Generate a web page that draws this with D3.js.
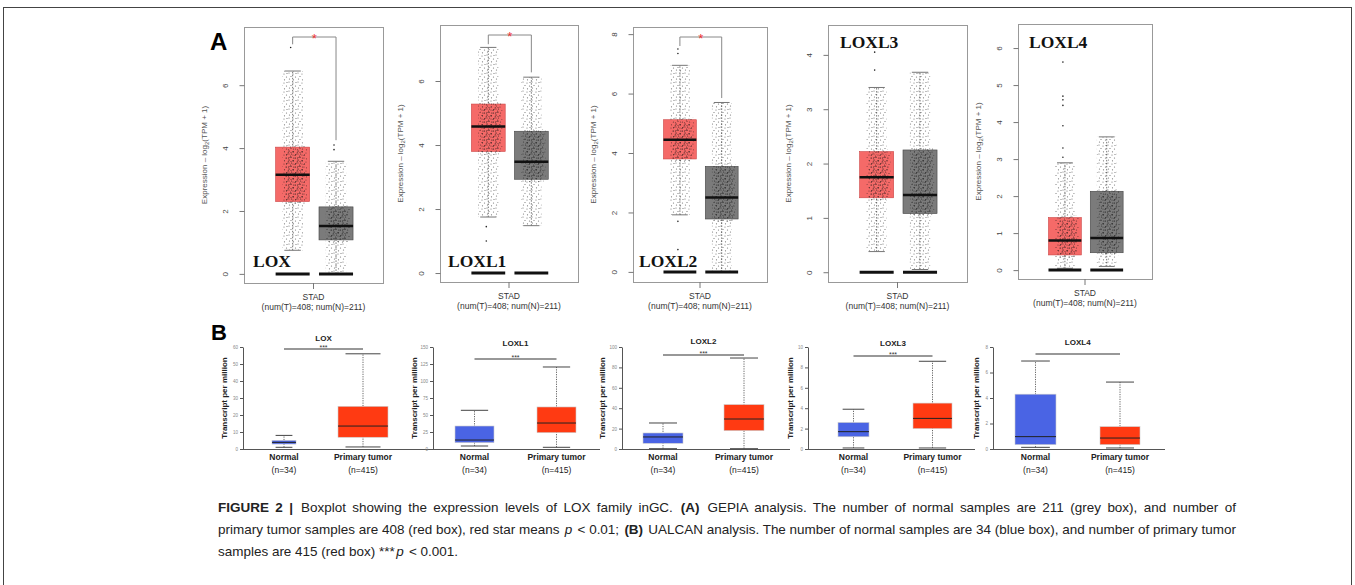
<!DOCTYPE html>
<html>
<head>
<meta charset="utf-8">
<script src="https://cdn.jsdelivr.net/npm/d3@7"></script>
<style>
  body { margin: 0; background: #fff; }
  svg { display: block; font-family: "Liberation Sans", Arial, sans-serif; }
</style>
</head>
<body>
<div class="fig"></div>
<script>
// ---- data ----
const genes = ["LOX", "LOXL1", "LOXL2", "LOXL3", "LOXL4"];

// GEPIA, log2(TPM+1): [lower whisker, Q1, median, Q3, upper whisker]
const gepiaTumor = [
  [0.75, 2.30, 3.15, 4.03, 6.45],
  [1.75, 3.80, 4.58, 5.28, 7.05],
  [1.92, 3.80, 4.45, 5.12, 6.95],
  [0.38, 1.37, 1.75, 2.22, 3.40],
  [0.05, 0.41, 0.80, 1.42, 2.90]
];
const gepiaNormal = [
  [0.00, 1.08, 1.52, 2.13, 3.58],
  [1.48, 2.93, 3.48, 4.43, 6.12],
  [0.00, 1.78, 2.50, 3.55, 5.70],
  [0.05, 1.08, 1.42, 2.25, 3.68],
  [0.10, 0.47, 0.87, 2.13, 3.60]
];
const gepiaTumorOut = [[7.2], [1.45, 1.0], [7.5, 7.35, 1.7, 0.75], [4.05, 3.72], [5.62, 4.7, 4.6, 4.45, 3.9, 3.3, 3.05]];
const gepiaNormalOut = [[4.1, 3.95], [], [], [], []];
const gepiaTicks = [[0, 2, 4, 6], [0, 2, 4, 6], [0, 2, 4, 6, 8], [0, 1, 2, 3, 4], [0, 1, 2, 3, 4, 5, 6]];
const gepiaDomain = [[-0.29, 7.85], [-0.28, 7.75], [-0.34, 8.24], [-0.18, 4.55], [-0.24, 6.65]];
const gepiaSignif = [true, true, true, false, false];
const gepiaXLabels = ["STAD", "(num(T)=408; num(N)=211)"];

// UALCAN, transcripts per million: [lower whisker, Q1, median, Q3, upper whisker]
const ualcanNormal = [
  [1.0, 2.9, 3.9, 5.1, 8.0],
  [4.4, 9.3, 13.2, 33.8, 56.9],
  [0.3, 5.6, 11.8, 15.7, 25.5],
  [0.1, 1.2, 1.7, 2.6, 3.9],
  [0.13, 0.34, 0.97, 4.3, 6.9]
];
const ualcanTumor = [
  [1.2, 6.9, 13.5, 25.1, 56.0],
  [2.5, 24.0, 38.2, 61.8, 120.6],
  [0.3, 18.0, 29.4, 43.5, 89.2],
  [0.1, 2.0, 3.0, 4.5, 8.6],
  [0.08, 0.34, 0.86, 1.75, 5.25]
];
const ualcanMax = [60, 150, 100, 10, 8];
const ualcanStep = [10, 25, 20, 2, 2];
const ualcanStars = ["***", "***", "***", "***", ""];
const ualcanGroups = ["Normal", "Primary tumor"];
const ualcanCounts = ["(n=34)", "(n=415)"];

// ---- layout ----
const W = 1355, H = 585;
const svg = d3.select(".fig").append("svg").attr("width", W).attr("height", H);

// jitter texture (styling only)
const defs = svg.append("defs");
const pat = defs.append("pattern").attr("id", "jit")
  .attr("patternUnits", "userSpaceOnUse").attr("width", 9).attr("height", 9);
[[1, 1], [5, 2], [3, 4.5], [7.5, 5], [1.5, 7], [5.5, 7.8], [8, 1.5]].forEach(p => {
  pat.append("circle").attr("cx", p[0]).attr("cy", p[1]).attr("r", 0.6).attr("fill", "#111");
});

// outer frame
svg.append("rect").attr("x", 3.5).attr("y", 7.5).attr("width", 1348).attr("height", 600)
  .attr("fill", "none").attr("stroke", "#444").attr("stroke-width", 1);

svg.append("text").attr("x", 210).attr("y", 50).attr("font-size", 24).attr("font-weight", "bold").text("A");
svg.append("text").attr("x", 211).attr("y", 340).attr("font-size", 22).attr("font-weight", "bold").text("B");

// GEPIA panels
const gepiaFrames = [
  { x0: 244, x1: 383, y0: 27, y1: 283, lx: 253, ly: 267 },
  { x0: 440, x1: 578, y0: 25, y1: 282, lx: 448, ly: 267 },
  { x0: 633, x1: 767, y0: 27, y1: 282, lx: 639, ly: 267 },
  { x0: 828, x1: 967, y0: 25, y1: 282, lx: 840, ly: 48 },
  { x0: 1018, x1: 1152, y0: 24, y1: 279, lx: 1029, ly: 48 }
];

genes.forEach((g, i) => {
  const f = gepiaFrames[i];
  const y = d3.scaleLinear().domain(gepiaDomain[i]).range([f.y1, f.y0]);
  const x = d3.scaleLinear().domain([0, 1]).range([f.x0, f.x1]);
  const bw = 0.245 * (f.x1 - f.x0);
  const p = svg.append("g");

  p.append("rect").attr("x", f.x0 + 0.5).attr("y", f.y0 + 0.5)
    .attr("width", f.x1 - f.x0).attr("height", f.y1 - f.y0)
    .attr("fill", "none").attr("stroke", "#999");

  const ax = p.append("g").attr("transform", `translate(${f.x0 + 0.5},0)`)
    .call(d3.axisLeft(y).tickValues(gepiaTicks[i]).tickFormat(d3.format("d")).tickSize(5).tickSizeOuter(0));
  ax.select(".domain").remove();
  ax.selectAll("line").attr("stroke", "#777");
  ax.selectAll("text").attr("x", null).attr("dy", null)
    .attr("transform", "translate(-17,0) rotate(-90)")
    .attr("text-anchor", "middle").attr("font-size", 8).attr("fill", "#444");

  const yt = p.append("text").attr("transform", `translate(${f.x0 - 37},${(f.y0 + f.y1) / 2}) rotate(-90)`)
    .attr("text-anchor", "middle").attr("font-size", 8).attr("fill", "#555");
  yt.append("tspan").text("Expression – log");
  yt.append("tspan").attr("font-size", 6).attr("dy", 2).text("2");
  yt.append("tspan").attr("dy", -2).text("(TPM + 1)");

  const cx = (f.x0 + f.x1) / 2;
  p.append("line").attr("x1", cx).attr("x2", cx).attr("y1", f.y1).attr("y2", f.y1 + 6).attr("stroke", "#777");
  gepiaXLabels.forEach((t, k) => {
    p.append("text").attr("x", cx).attr("y", f.y1 + 17 + k * 10).attr("text-anchor", "middle")
      .attr("font-size", 8.5).attr("fill", "#333").text(t);
  });

  const groups = [
    { s: gepiaTumor[i], out: gepiaTumorOut[i], pos: 0.35, fill: "#f56a68", stroke: "#c44" },
    { s: gepiaNormal[i], out: gepiaNormalOut[i], pos: 0.662, fill: "#7b7b7b", stroke: "#444" }
  ];
  groups.forEach(gr => {
    const c = x(gr.pos), s = gr.s;
    // whiskers
    p.append("line").attr("x1", c).attr("x2", c).attr("y1", y(s[0])).attr("y2", y(s[4]))
      .attr("stroke", "#777").attr("stroke-dasharray", "1.5,1.5");
    p.append("rect").attr("x", c - bw / 2).attr("y", y(s[3])).attr("width", bw).attr("height", y(s[1]) - y(s[3]))
      .attr("fill", gr.fill).attr("stroke", gr.stroke).attr("stroke-width", 0.6);
    // jitter texture
    p.append("rect").attr("x", c - bw * 0.3).attr("y", y(s[4])).attr("width", bw * 0.6).attr("height", y(s[0]) - y(s[4]))
      .attr("fill", "url(#jit)").attr("opacity", 0.6);
    p.append("rect").attr("x", c - bw * 0.3).attr("y", y(s[3])).attr("width", bw * 0.6).attr("height", y(s[1]) - y(s[3]))
      .attr("fill", "url(#jit)").attr("opacity", 0.7).attr("transform", "translate(2,3)");
    p.append("rect").attr("x", c - bw * 0.3).attr("y", y(s[3])).attr("width", bw * 0.6).attr("height", y(s[1]) - y(s[3]))
      .attr("fill", "url(#jit)").attr("opacity", 0.6).attr("transform", "translate(4,-2)");
    [s[0], s[4]].forEach(v => {
      p.append("line").attr("x1", c - bw * 0.24).attr("x2", c + bw * 0.24).attr("y1", y(v)).attr("y2", y(v)).attr("stroke", "#777");
    });
    p.append("line").attr("x1", c - bw / 2).attr("x2", c + bw / 2).attr("y1", y(s[2])).attr("y2", y(s[2]))
      .attr("stroke", "#111").attr("stroke-width", 2.5);
    p.selectAll(null).data(gr.out).join("circle")
      .attr("cx", c - 2).attr("cy", d => y(d)).attr("r", 0.8).attr("fill", "#222");
    // zero bar
    p.append("line").attr("x1", c - bw / 2).attr("x2", c + bw / 2).attr("y1", y(0)).attr("y2", y(0))
      .attr("stroke", "#111").attr("stroke-width", 3);
  });

  if (gepiaSignif[i]) {
    const top = f.y0 + 10;
    const xl = x(0.35), xr = x(0.662);
    const lb = y(d3.max([gepiaTumor[i][4], ...gepiaTumorOut[i]]) + 0.1);
    const rb = y(d3.max([gepiaNormal[i][4], ...gepiaNormalOut[i]]) + 0.15);
    p.append("path").attr("d", `M${xl},${lb}V${top}H${xr}V${rb}`)
      .attr("fill", "none").attr("stroke", "#888");
    p.append("text").attr("x", (xl + xr) / 2).attr("y", top + 6).attr("text-anchor", "middle")
      .attr("font-size", 13).attr("fill", "#e33").text("*");
  }

  p.append("text").attr("x", f.lx).attr("y", f.ly).attr("font-family", "'Liberation Serif', 'Times New Roman', serif")
    .attr("font-weight", "bold").attr("font-size", 17.5).attr("fill", "#111").text(g);
});

// UALCAN panels
const ualcanFrames = [
  { ax: 243, xe: 435, nc: 284, nw: 24, tc: 363, tw: 50, sig: 349, ty: 341, yt: 227 },
  { ax: 433, xe: 600, nc: 474.5, nw: 39, tc: 556.5, tw: 39, sig: 359, ty: 346, yt: 417 },
  { ax: 622, xe: 790, nc: 663, nw: 40, tc: 744, tw: 40, sig: 355, ty: 344, yt: 605 },
  { ax: 808, xe: 975, nc: 853.5, nw: 31, tc: 932.5, tw: 39, sig: 356, ty: 346, yt: 793 },
  { ax: 993, xe: 1165, nc: 1035.5, nw: 41, tc: 1120, tw: 40, sig: 354, ty: 345, yt: 979 }
];
const uTop = 347, uBot = 449;

genes.forEach((g, i) => {
  const f = ualcanFrames[i];
  const y = d3.scaleLinear().domain([0, ualcanMax[i]]).range([uBot, uTop]);
  const p = svg.append("g");

  const ax = p.append("g").attr("transform", `translate(${f.ax},0)`)
    .call(d3.axisLeft(y).tickValues(d3.range(0, ualcanMax[i] + 0.001, ualcanStep[i]))
      .tickFormat(d3.format("d")).tickSize(3).tickSizeOuter(0).tickPadding(2));
  ax.select(".domain").attr("stroke", "#555");
  ax.selectAll("line").attr("stroke", "#555");
  ax.selectAll("text").attr("font-size", 4.5).attr("fill", "#888");

  p.append("line").attr("x1", f.ax).attr("x2", f.xe).attr("y1", uBot + 0.5).attr("y2", uBot + 0.5)
    .attr("stroke", "#555").attr("stroke-width", 1.2);

  p.append("text").attr("transform", `translate(${f.yt},398) rotate(-90)`).attr("text-anchor", "middle")
    .attr("font-size", 8).attr("font-weight", "bold").attr("fill", "#222").text("Transcript per million");

  const mid = (f.nc + f.tc) / 2;
  p.append("text").attr("x", mid).attr("y", f.ty).attr("text-anchor", "middle")
    .attr("font-size", 8).attr("font-weight", "bold").attr("fill", "#222").text(g);
  p.append("line").attr("x1", f.nc).attr("x2", f.tc).attr("y1", f.sig).attr("y2", f.sig)
    .attr("stroke", "#333").attr("stroke-width", 1.2);
  p.append("text").attr("x", mid).attr("y", f.sig + 1).attr("text-anchor", "middle")
    .attr("font-size", 7).attr("fill", "#333").text(ualcanStars[i]);

  const groups = [
    { s: ualcanNormal[i], c: f.nc, w: f.nw, fill: "#4a64e4" },
    { s: ualcanTumor[i], c: f.tc, w: f.tw, fill: "#ff3a12" }
  ];
  groups.forEach((gr, k) => {
    const s = gr.s, c = gr.c, w = gr.w;
    p.append("line").attr("x1", c).attr("x2", c).attr("y1", y(s[0])).attr("y2", y(s[4]))
      .attr("stroke", "#666").attr("stroke-dasharray", "1.2,1.2");
    [s[0], s[4]].forEach(v => {
      p.append("line").attr("x1", c - w * 0.35).attr("x2", c + w * 0.35).attr("y1", y(v)).attr("y2", y(v))
        .attr("stroke", "#444").attr("stroke-width", 1);
    });
    p.append("rect").attr("x", c - w / 2).attr("y", y(s[3])).attr("width", w).attr("height", y(s[1]) - y(s[3]))
      .attr("fill", gr.fill).attr("stroke", "#ccc").attr("stroke-width", 0.6);
    p.append("line").attr("x1", c - w / 2).attr("x2", c + w / 2).attr("y1", y(s[2])).attr("y2", y(s[2]))
      .attr("stroke", "#222").attr("stroke-width", 1);
    p.append("text").attr("x", c).attr("y", 460).attr("text-anchor", "middle")
      .attr("font-size", 8.5).attr("font-weight", "bold").attr("fill", "#222").text(ualcanGroups[k]);
    p.append("text").attr("x", c).attr("y", 473).attr("text-anchor", "middle")
      .attr("font-size", 8.5).attr("fill", "#222").text(ualcanCounts[k]);
  });
});

// caption: one text per styled run, lines 1-2 justified to the reference width
const capLines = [
  [["FIGURE 2 |", "b"], [" Boxplot showing the expression levels of LOX family inGC. ", ""], ["(A)", "b"],
   [" GEPIA analysis. The number of normal samples are 211 (grey box), and number of", ""]],
  [["primary tumor samples are 408 (red box), red star means ", ""], ["p", "i"], [" < 0.01; ", ""], ["(B)", "b"],
   [" UALCAN analysis. The number of normal samples are 34 (blue box), and number of primary tumor", ""]],
  [["samples are 415 (red box) ***", ""], ["p", "i"], [" < 0.001.", ""]]
];
const capY = [512, 534, 556];
const capX = 218, capW = 1018, runGap = 1.5;

function spaceWidth(size) {
  const probe = svg.append("text").attr("font-size", size);
  const sw = probe.text("a a").node().getComputedTextLength() - probe.text("aa").node().getComputedTextLength();
  probe.remove();
  return sw;
}

function layoutLine(line, y, size, justify) {
  const sw = spaceWidth(size);
  const runs = line.map(([s, st]) => {
    const core = s.trim();
    const t = svg.append("text").attr("y", y).attr("font-size", size).attr("fill", "#222").text(core);
    if (st === "b") t.attr("font-weight", "bold");
    if (st === "i") t.attr("font-style", "italic");
    return {
      t, w: t.node().getComputedTextLength(),
      inner: (core.match(/ /g) || []).length,
      lead: s.length - s.trimStart().length,
      trail: s.length - s.trimEnd().length
    };
  });
  const spaces = d3.sum(runs, r => r.inner + r.lead + r.trail);
  const natural = d3.sum(runs, r => r.w + (r.lead + r.trail) * sw) + runGap * (runs.length - 1);
  const ws = justify ? (capW - natural) / spaces : 0;
  let cx = capX;
  runs.forEach(r => {
    cx += r.lead * (sw + ws);
    r.t.attr("x", cx).attr("word-spacing", ws);
    cx += r.w + r.inner * ws + r.trail * (sw + ws) + runGap;
  });
  return { runs, width: natural };
}

// size chosen so the longest line (line 2) fits at natural spacing
const trial = layoutLine(capLines[1], capY[1], 16, false);
const capSize = 16 * (capW - runGap * 4) / (trial.width - runGap * 4);
trial.runs.forEach(r => r.t.remove());
capLines.forEach((line, li) => layoutLine(line, capY[li], capSize, li < 2));
</script>
</body>
</html>
